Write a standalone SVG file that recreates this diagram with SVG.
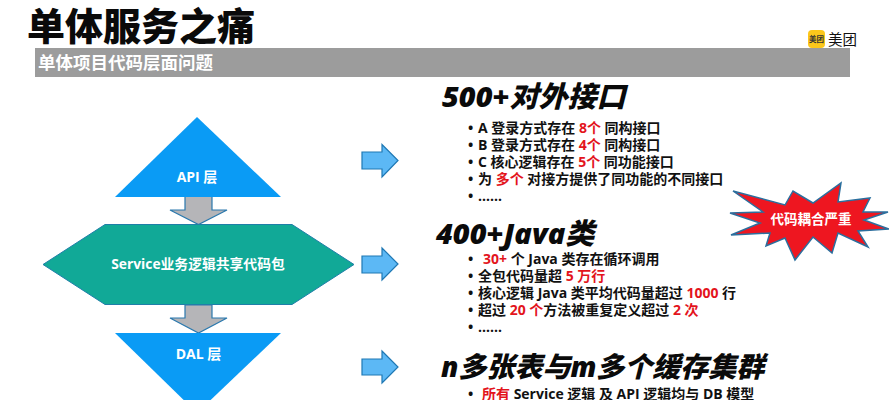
<svg xmlns="http://www.w3.org/2000/svg" width="889" height="400" viewBox="0 0 889 400">
<style>
text{font-family:"Open Sans","Noto Sans CJK SC",sans-serif;font-weight:700}
.b{font-size:14px;fill:#111}
.r{fill:#e3141c}
.h{font-size:28px;font-style:italic;fill:#0a0a0a;font-weight:900}
.w{fill:#fff;font-size:14px;text-anchor:middle}
.side{fill:#5cb8f5;stroke:#1f78b4;stroke-width:1.2}
.down{fill:#b5b5b8;stroke:#2a78ad;stroke-width:1.2}
</style>
<rect width="889" height="400" fill="#fff"/>
<text x="27" y="40" font-size="38" fill="#0a0a0a" id="title" style="font-family:'Noto Sans CJK SC',sans-serif;font-weight:900">单体服务之痛</text>
<g id="logo">
<rect x="808" y="30" width="17" height="18" rx="4" fill="#fcc71b"/>
<text x="816.500" y="42" font-size="7.500" text-anchor="middle" fill="#333">美团</text>
<text x="828" y="45" font-size="14.500" fill="#111" style="font-weight:400">美团</text>
</g>
<g id="banner">
<rect x="35" y="48" width="815" height="29" fill="#9c9c9c"/>
<text x="38" y="69" font-size="17.500" fill="#fff">单体项目代码层面问题</text>
</g>
<g id="connectors">
<path class="down" d="M185 196H212V210H227L198.500 224.500L170 210H185Z"/>
<path class="down" d="M185 305H212V318H227L198.500 333L170 318H185Z"/>
<path class="side" d="M362 152H382V144.500L398 160.500L382 177V169H362Z"/>
<path class="side" d="M362 256H382V248L398 264L382 280V273H362Z"/>
<path class="side" d="M362 359H382V351L398 367L382 383V375H362Z"/>
</g>
<g id="api">
<path d="M197 117L281 197H115Z" fill="#0a9bf5"/>
<text class="w" x="197" y="182">API 层</text>
</g>
<g id="service">
<path d="M43 264.500L105 224.500H292L354 264.500L292 304.500H105Z" fill="#11a997" stroke="#1f7fa8" stroke-width="1"/>
<text class="w" x="198" y="269" style="font-size:13.800px">Service业务逻辑共享代码包</text>
</g>
<g id="dal">
<path d="M115 333H281L197 413Z" fill="#0a9bf5"/>
<text class="w" x="198.500" y="359">DAL 层</text>
</g>
<g id="star">
<path d="M733 191L785 205L793 191L813 203L841 183L838 202L870 198L863 212L888 212L864 220L889 229L858 231L868 247L838 233L832 253L813 237L795 260L785 238L766 246L770 233L731 235L760 223L730 213L763 212Z" fill="#ee1620" stroke="#2b6f9e" stroke-width="1.500"/>
<text class="w" x="811" y="224" style="font-size:13.500px">代码耦合严重</text>
</g>
<g id="block1">
<text class="h" x="442" y="107" style="font-size:29px">500+对外接口</text>
<text class="b" x="468" y="133">•<tspan x="478">A 登录方式存在 </tspan><tspan class="r">8个</tspan> 同构接口</text>
<text class="b" x="468" y="150">•<tspan x="478">B 登录方式存在 </tspan><tspan class="r">4个</tspan> 同构接口</text>
<text class="b" x="468" y="167">•<tspan x="478">C 核心逻辑存在 </tspan><tspan class="r">5个</tspan> 同功能接口</text>
<text class="b" x="468" y="184">•<tspan x="478">为 </tspan><tspan class="r">多个</tspan> 对接方提供了同功能的不同接口</text>
<text class="b" x="468" y="201">•<tspan x="478">……</tspan></text>
</g>
<g id="block2">
<text class="h" x="436" y="244" style="font-size:29px">400+Java类</text>
<text class="b" x="468" y="264">•<tspan class="r" x="483">30+</tspan> 个 Java 类存在循环调用</text>
<text class="b" x="468" y="281">•<tspan x="478">全包代码量超 </tspan><tspan class="r">5 万行</tspan></text>
<text class="b" x="468" y="298">•<tspan x="478">核心逻辑 Java 类平均代码量超过 </tspan><tspan class="r">1000</tspan> 行</text>
<text class="b" x="468" y="315">•<tspan x="478">超过 </tspan><tspan class="r">20 个</tspan>方法被重复定义超过 <tspan class="r">2 次</tspan></text>
<text class="b" x="468" y="332">•<tspan x="478">……</tspan></text>
</g>
<g id="block3">
<text class="h" x="441" y="377">n多张表与m多个缓存集群</text>
<text class="b" x="468" y="399">•<tspan class="r" x="482">所有</tspan> Service 逻辑 及 API 逻辑均与 DB 模型</text>
</g>
</svg>
